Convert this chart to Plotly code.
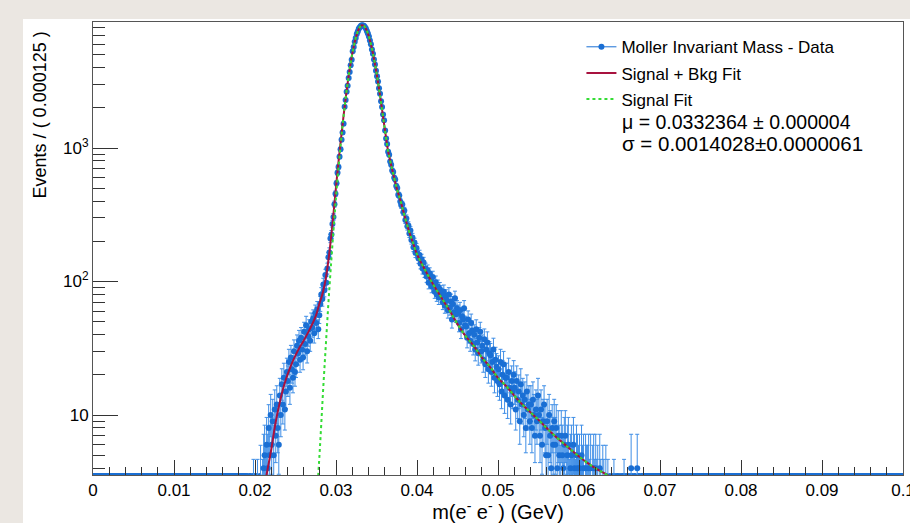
import plotly.graph_objects as go
import numpy as np

# histogram: Events / (0.000125), first listed bin index
bin_width = 0.000125
first_bin = 152
n_bins = 800
counts = [
    0, 1, 0, 0, 1, 0, 2, 0,            # 0.019
    1, 0, 2, 1, 0, 3, 1, 2,            # 0.020
    4, 5, 3, 6, 4, 8, 5, 10,           # 0.021
    6, 9, 5, 11, 7, 12, 8, 6,          # 0.022
    14, 10, 17, 12, 19, 11, 15, 21,    # 0.023
    18, 25, 16, 27, 22, 19, 30, 21,    # 0.024
    24, 33, 29, 36, 26, 38, 31, 27,    # 0.025
    42, 34, 47, 30, 39, 44, 36, 50,    # 0.026
    45, 53, 41, 58, 49, 62, 44, 56,    # 0.027
    68, 80, 74, 95, 86, 112, 98, 125,  # 0.028
    152, 165, 210, 225, 270, 305, 380, 455,           # 0.029
    545, 652, 721, 862, 981, 1155, 1308, 1517,        # 0.030
    2041, 2287, 2635, 2932, 3351, 3710, 4172, 4583,   # 0.031
    5301, 5722, 6248, 6667, 7133, 7451, 7826, 8012,   # 0.032
    8187, 8312, 8276, 8251, 8049, 7871, 7522, 7219,   # 0.033
    6845, 6378, 5981, 5472, 5083, 4597, 4221, 3788,   # 0.034
    3452, 3149, 2801, 2547, 2243, 2028, 1786, 1612,   # 0.035
    1352, 1177, 1071, 938, 889, 792, 751, 680,        # 0.036
    662, 598, 581, 519, 503, 447, 441, 398,           # 0.037
    372, 378, 331, 340, 289, 297, 259, 263,           # 0.038
    229, 241, 205, 214, 181, 196, 164, 178,           # 0.039
    162, 149, 158, 136, 147, 125, 139, 118,           # 0.040
    125, 109, 121, 98, 115, 104, 92, 108,             # 0.041
    97, 84, 99, 80, 92, 76, 88, 83,    # 0.042
    79, 70, 84, 66, 77, 72, 61, 80,    # 0.043
    64, 71, 52, 68, 59, 75, 57, 63,    # 0.044
    58, 49, 61, 44, 55, 52, 63, 47,    # 0.045
    46, 38, 52, 41, 36, 49, 43, 34,    # 0.046
    40, 31, 44, 35, 29, 38, 42, 30,    # 0.047
    33, 26, 37, 24, 31, 35, 22, 29,    # 0.048
    28, 21, 25, 31, 19, 26, 23, 18,    # 0.049
    22, 17, 25, 15, 20, 24, 14, 19,    # 0.050
    19, 13, 21, 16, 12, 18, 15, 20,    # 0.051
    16, 11, 18, 13, 15, 9, 17, 12,     # 0.052
    14, 10, 13, 8, 15, 11, 12, 9,      # 0.053
    12, 8, 13, 10, 7, 11, 9, 14,       # 0.054
    10, 7, 11, 6, 9, 12, 8, 5,         # 0.055
    9, 5, 10, 7, 4, 8, 6, 9,           # 0.056
    6, 8, 4, 7, 5, 3, 7, 5,            # 0.057
    4, 6, 7, 3, 5, 6, 2, 4,            # 0.058
    5, 3, 6, 4, 2, 5, 4, 3,            # 0.059
    4, 2, 5, 3, 4, 1, 4, 3,            # 0.060
    3, 4, 2, 4, 1, 3, 4, 2,            # 0.061
    4, 2, 3, 1, 4, 2, 1, 3,            # 0.062
    2, 1, 3, 0, 2, 1, 0, 1,            # 0.063
    1, 0, 2, 0, 1, 0, 0, 1,            # 0.064
    0, 1, 0, 0, 2, 0, 1, 0,            # 0.065
    0, 1, 0, 4, 0, 1, 0, 0,            # 0.066
    1, 4, 0, 0, 1, 0, 0, 0,            # 0.067
]

# signal + background fit curve
sb_x = [0.0214, 0.0220, 0.0225, 0.0230, 0.0235, 0.0240, 0.0245, 0.0250, 0.0255,
        0.0260, 0.0265, 0.0270, 0.0275, 0.0280, 0.0282, 0.0284, 0.0286, 0.0288,
        0.0290, 0.0292, 0.0294, 0.0296, 0.0298, 0.0300, 0.0302, 0.0304, 0.0306,
        0.0308, 0.0310]
sb_y = [3.5, 5.5, 8.5, 12, 16, 20, 24, 28, 32,
        36, 41, 47, 55, 70, 76, 84, 95, 111,
        135, 168, 215, 283, 379, 510, 680, 890, 1150,
        1480, 1890]

# signal fit curve
sig_x = [0.0278, 0.0280, 0.0282, 0.0284, 0.0286, 0.0288, 0.0290, 0.0292, 0.0294,
         0.0296, 0.0298, 0.0300, 0.0302, 0.0304, 0.0306, 0.0308, 0.0310, 0.0312,
         0.0314, 0.0316, 0.0318, 0.0320, 0.0322, 0.0324, 0.0326, 0.0328, 0.0330,
         0.0332, 0.0334, 0.0336, 0.0338, 0.0340, 0.0342, 0.0344, 0.0346, 0.0348,
         0.0350, 0.0352, 0.0354, 0.0356, 0.0358, 0.0360, 0.0362, 0.0364, 0.0366,
         0.0368, 0.0370, 0.0375, 0.0380, 0.0385, 0.0390, 0.0395, 0.0400, 0.0410,
         0.0420, 0.0430, 0.0440, 0.0450, 0.0460, 0.0470, 0.0480, 0.0490, 0.0500,
         0.0510, 0.0520, 0.0530, 0.0540, 0.0550, 0.0560, 0.0570, 0.0580, 0.0590,
         0.0600, 0.0610, 0.0620, 0.0630, 0.0640]
sig_y = [3.5, 5.5, 9, 15, 24, 38, 60, 92, 138,
         205, 300, 430, 600, 820, 1100, 1450, 1880, 2380,
         2950, 3600, 4300, 5050, 5800, 6550, 7200, 7750, 8130,
         8300, 8250, 8000, 7580, 7020, 6370, 5680, 4980, 4300,
         3660, 3080, 2560, 2110, 1730, 1420, 1170, 970, 850,
         750, 665, 500, 395, 305, 240, 195, 160, 122,
         95, 76, 61, 48, 39, 33, 27, 23, 19,
         16.5, 14, 12, 10.5, 9.2, 8, 7, 6.2, 5.5,
         4.9, 4.4, 4.0, 3.7, 3.4]

y_log_range = [0.551, 3.944]
x_ticks = [0, 0.01, 0.02, 0.03, 0.04, 0.05, 0.06, 0.07, 0.08, 0.09, 0.1]
y_ticks = [10, 100, 1000]
y_ticktext = ["10", "10<sup>2</sup>", "10<sup>3</sup>"]
y_minor = [m * d for d in [1, 10, 100, 1000] for m in range(2, 10)]

blue = "#1a6fd4"
red = "#a8123f"
green = "#35dc35"

counts = np.array(counts, dtype=float)
xc = (first_bin + np.arange(len(counts)) + 0.5) * bin_width
nz = counts > 0
n = counts[nz]
err_hi = np.sqrt(n + 0.75) + 1
err_lo = np.sqrt(n - 0.25)

# empty bins end up on the lower edge, like in ROOT
all_x = (np.arange(n_bins) + 0.5) * bin_width
filled = set(range(first_bin, first_bin + len(counts)))
empty_x = [all_x[i] for i in range(n_bins) if i not in filled] + list(xc[~nz])
floor = 10 ** y_log_range[0]

fig = go.Figure()

fig.add_trace(go.Scatter(x=empty_x, y=[floor] * len(empty_x), mode="markers",
                         marker=dict(color=blue, size=4), showlegend=False,
                         hoverinfo="skip"))
fig.add_trace(go.Scatter(x=xc[nz], y=n, mode="markers",
                         marker=dict(color=blue, size=6),
                         error_y=dict(type="data", array=err_hi, arrayminus=err_lo,
                                      color="#3f8ee6", thickness=1, width=2),
                         showlegend=False))
fig.add_trace(go.Scatter(x=[None], y=[None], mode="lines+markers",
                         line=dict(color=blue, width=1), marker=dict(color=blue, size=6),
                         name="Moller Invariant Mass - Data", legendgroup="a"))
cut = sig_x.index(0.0312)
fig.add_trace(go.Scatter(x=sb_x + sig_x[cut:], y=sb_y + sig_y[cut:],
                         mode="lines", line=dict(color=red, width=2, shape="spline"),
                         name="Signal + Bkg Fit", legendgroup="b"))
fig.add_trace(go.Scatter(x=sig_x, y=sig_y, mode="lines",
                         line=dict(color=green, width=2, dash="dot", shape="spline"),
                         name="Signal Fit", legendgroup="c"))

fig.add_annotation(text="\u03bc = 0.0332364 \u00b1 0.000004", xref="paper", yref="paper",
                   x=0.650, y=0.779, xanchor="left", yanchor="middle", showarrow=False,
                   font=dict(size=19.5))
fig.add_annotation(text="\u03c3 = 0.0014028\u00b10.0000061", xref="paper", yref="paper",
                   x=0.650, y=0.7307, xanchor="left", yanchor="middle", showarrow=False,
                   font=dict(size=20.5))
fig.add_annotation(text="Events / ( 0.000125 )", xref="paper", yref="paper",
                   x=-0.066, y=0.795, xanchor="center", yanchor="middle", textangle=-90,
                   showarrow=False, font=dict(size=18))

# white ROOT canvas on the textured page
fig.add_shape(type="rect", xref="paper", yref="paper", x0=-0.0864, x1=1.02,
              y0=-0.12, y1=1.0066, fillcolor="white", line_width=0, layer="below")

fig.update_layout(
    width=910, height=523,
    margin=dict(l=93, r=7, t=22, b=48, autoexpand=False),
    paper_bgcolor="#ebe7e2", plot_bgcolor="white",
    font=dict(family="Liberation Sans, Arial", color="black"),
    legend=dict(x=0.603, y=0.984, xanchor="left", yanchor="top",
                font=dict(size=17), bgcolor="rgba(0,0,0,0)", tracegroupgap=1),
)
fig.update_xaxes(range=[0, 0.1], tickvals=x_ticks, ticks="inside", ticklen=15,
                 tickcolor="#333", showline=True, linecolor="#555", mirror=True,
                 showgrid=False, zeroline=False, tickfont=dict(size=17),
                 ticklabeloverflow="allow", automargin=False,
                 minor=dict(dtick=0.002, ticks="inside", ticklen=8, tickcolor="#333"),
                 title=dict(text="m(e<sup>-</sup> e<sup>-</sup> ) (GeV)", font=dict(size=20),
                            standoff=4))
fig.update_yaxes(type="log", range=y_log_range, tickvals=y_ticks, ticktext=y_ticktext,
                 ticks="inside", ticklen=25, tickcolor="#333", showline=True,
                 linecolor="#555", mirror=True, showgrid=False, tickfont=dict(size=17),
                 automargin=False,
                 minor=dict(tickmode="array", tickvals=y_minor, ticks="inside",
                            ticklen=12, tickcolor="#333"))

fig.write_html("out.html", config={"displayModeBar": False},
               post_script="document.body.style.margin = '0px';")
